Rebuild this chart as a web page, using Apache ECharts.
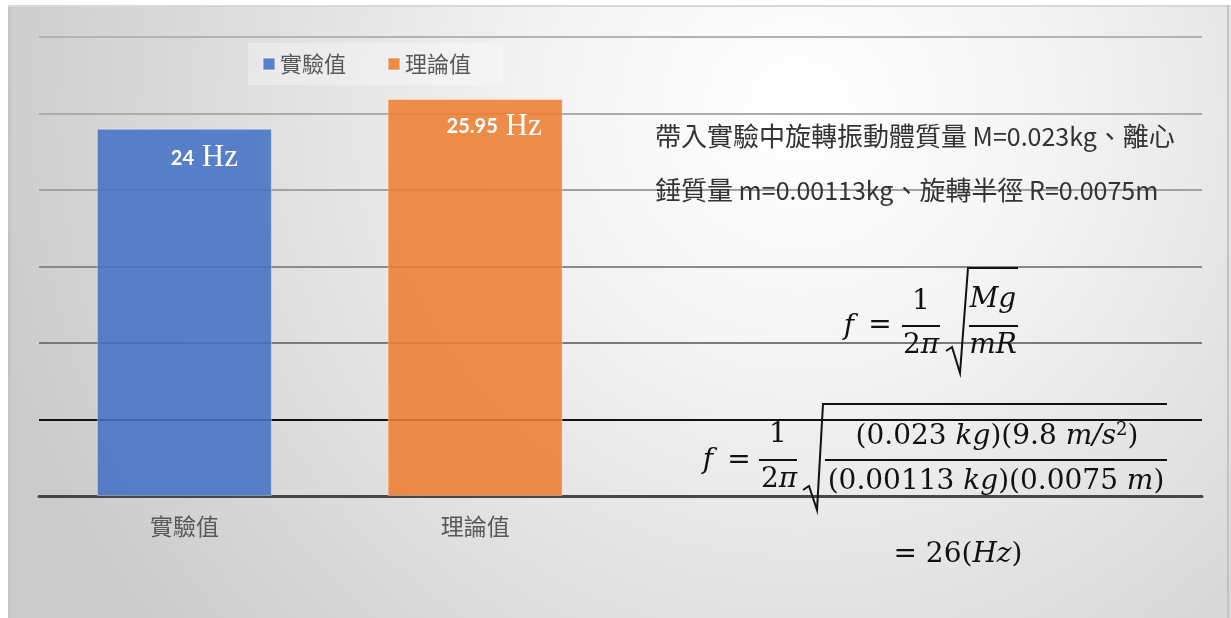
<!DOCTYPE html>
<html>
<head>
<meta charset="UTF-8">
<title>實驗值 vs 理論值</title>
<script src="https://cdn.jsdelivr.net/npm/echarts@6/dist/echarts.min.js"></script>
<style>
	html, body { margin:0; padding:0; background:#fff; }
	#chart { width:1231px; height:618px; }
</style>
</head>
<body>
	<div id="chart"></div>

	<script type="text/javascript">
		// data
		var categories = ['實驗值', '理論值', '', ''];
		var seriesNames = ['實驗值', '理論值'];
		var measured = [24, '-', '-', '-'];
		var theory = ['-', 25.95, '-', '-'];
		var yMin = 0, yMax = 30, yStep = 5;

		// note lines, split into CJK (c) / latin (l) pieces
		var noteLine1 = [['c', '帶入實驗中旋轉振動體質量'], ['l', ' M=0.023kg'], ['c', '、離心']];
		var noteLine2 = [['c', '錘質量'], ['l', ' m=0.00113kg'], ['c', '、旋轉半徑'], ['l', ' R=0.0075m']];

		var MATH = 'DejaVu Serif';
		var CJK = '"Noto Sans CJK TC", "Noto Sans", sans-serif';

		function richNote(parts){
			var s = '';
			for (var i = 0; i < parts.length; i++) s += '{' + parts[i][0] + '|' + parts[i][1] + '}';
			return s;
		}
		function noteText(y, parts){
			return {
				type: 'text', z: 10,
				style: {
					x: 655, y: y, text: richNote(parts), verticalAlign: 'middle',
					rich: {
						c: { fontFamily: 'Noto Sans CJK TC', fontSize: 26, fill: '#333' },
						l: { fontFamily: 'Noto Sans CJK TC', fontSize: 25, fill: '#333' }
					}
				}
			};
		}

		function mtext(x, y, text){
			return {
				type: 'text', z: 10,
				style: {
					x: x, y: y, text: text,
					fill: '#111', font: '28px "' + MATH + '"',
					align: 'center', verticalAlign: 'middle',
					rich: {
						i: { fontFamily: MATH, fontStyle: 'italic', fontSize: 28, fill: '#111' },
						r: { fontFamily: MATH, fontSize: 28, fill: '#111' },
						s: { fontFamily: MATH, fontSize: 18, fill: '#111', verticalAlign: 'top', padding: [0, 0, 14, 0] }
					}
				}
			};
		}
		function mline(x1, y1, x2, y2){
			return { type: 'line', z: 10, shape: { x1: x1, y1: y1, x2: x2, y2: y2 }, style: { stroke: '#111', lineWidth: 2 } };
		}
		function radical(pts){
			return { type: 'polyline', z: 10, shape: { points: pts }, style: { stroke: '#111', lineWidth: 2, fill: null } };
		}

		var labelRich = {
			a: { fontFamily: 'Lato', fontWeight: 'bold', fontSize: 20, color: '#fff' },
			b: { fontFamily: 'Liberation Serif', fontSize: 31, color: '#fff' }
		};
		function labelFmt(p){ return '{a|' + p.value + '}{b| Hz}'; }

		var myChart = echarts.init(document.getElementById('chart'));

		var option = {
			animation: false,
			backgroundColor: new echarts.graphic.RadialGradient(0.65, 0.18, 1.35, [
				{ offset: 0, color: '#ffffff' },
				{ offset: 0.3, color: '#f4f4f4' },
				{ offset: 1, color: '#cbcbcb' }
			]),
			legend: {
				left: 248, top: 43,
				itemWidth: 12, itemHeight: 12, itemGap: 41,
				padding: [10, 32, 10, 14],
				backgroundColor: 'rgba(255,255,255,0.3)',
				icon: 'rect',
				textStyle: { fontSize: 22, color: '#595959', fontFamily: CJK },
				data: seriesNames
			},
			grid: { left: 39, right: 29, top: 37, bottom: 122 },
			xAxis: {
				type: 'category',
				data: categories,
				axisLine: { lineStyle: { color: '#474747', width: 3 } },
				axisTick: { show: false },
				axisLabel: { fontSize: 23, color: '#595959', fontFamily: CJK, margin: 19 }
			},
			yAxis: {
				type: 'value',
				min: yMin, max: yMax, interval: yStep,
				axisLabel: { show: false },
				axisLine: { show: false },
				axisTick: { show: false },
				splitLine: { lineStyle: { width: 2, color: ['#474747', '#111111', '#7a7a7a', '#8a8a8a', '#a2a2a2', '#acacac', '#b4b4b4'] } }
			},
			series: [
				{
					name: seriesNames[0], type: 'bar', data: measured,
					barWidth: 175, barGap: '-100%',
					itemStyle: { color: 'rgba(68,114,196,0.88)', borderColor: 'rgba(255,255,255,0.35)', borderWidth: 1 },
					label: { show: true, position: 'insideTop', offset: [20, 9], formatter: labelFmt, rich: labelRich }
				},
				{
					name: seriesNames[1], type: 'bar', data: theory,
					barWidth: 175,
					itemStyle: { color: 'rgba(237,125,49,0.88)', borderColor: 'rgba(255,255,255,0.35)', borderWidth: 1 },
					label: { show: true, position: 'insideTop', offset: [19, 7], formatter: labelFmt, rich: labelRich }
				}
			],
			graphic: [
				// page margin + frame
				{ type: 'rect', z: 20, shape: { x: 0, y: 0, width: 8, height: 618 }, style: { fill: '#fff' } },
				{ type: 'rect', z: 20, shape: { x: 0, y: 0, width: 1231, height: 5 }, style: { fill: '#fff' } },
				{ type: 'line', z: 20, shape: { x1: 9.5, y1: 5, x2: 9.5, y2: 618 }, style: { stroke: '#c4c4c4', lineWidth: 3 } },
				{ type: 'line', z: 20, shape: { x1: 8, y1: 6, x2: 1231, y2: 6 }, style: { stroke: '#d8d8d8', lineWidth: 2 } },
				{ type: 'line', z: 20, shape: { x1: 1228, y1: 5, x2: 1228, y2: 618 }, style: { stroke: '#c2c2c2', lineWidth: 2 } },

				// note text
				noteText(136, noteLine1),
				noteText(190, noteLine2),

				// f = 1/(2π) √(Mg/mR)
				mtext(849, 327, '{i|f}'),
				mtext(880, 326, '='),
				mtext(921, 302, '1'),
				mline(902, 326, 940, 326),
				mtext(921, 346, '{r|2}{i|π}'),
				radical([[946, 351], [952, 347], [960, 373], [968, 268], [1018, 268]]),
				mtext(993, 300, '{i|Mg}'),
				mline(969, 326, 1018, 326),
				mtext(993, 346, '{i|mR}'),

				// f = 1/(2π) √((0.023 kg)(9.8 m/s²)/((0.00113 kg)(0.0075 m)))
				mtext(708, 461, '{i|f}'),
				mtext(739, 461, '='),
				mtext(778, 435, '1'),
				mline(759, 460, 797, 460),
				mtext(779, 480, '{r|2}{i|π}'),
				radical([[803, 490], [809, 486], [817, 510], [823, 404], [1167, 404]]),
				mtext(997, 437, '{r|(0.023 }{i|kg}{r|)(9.8 }{i|m/s}{s|2}{r|)}'),
				mline(825, 460, 1167, 460),
				mtext(996, 482, '{r|(0.00113 }{i|kg}{r|)(0.0075 }{i|m}{r|)}'),

				mtext(958, 555, '{r|= 26(}{i|Hz}{r|)}')
			]
		};

		myChart.setOption(option);
	</script>
</body>
</html>
